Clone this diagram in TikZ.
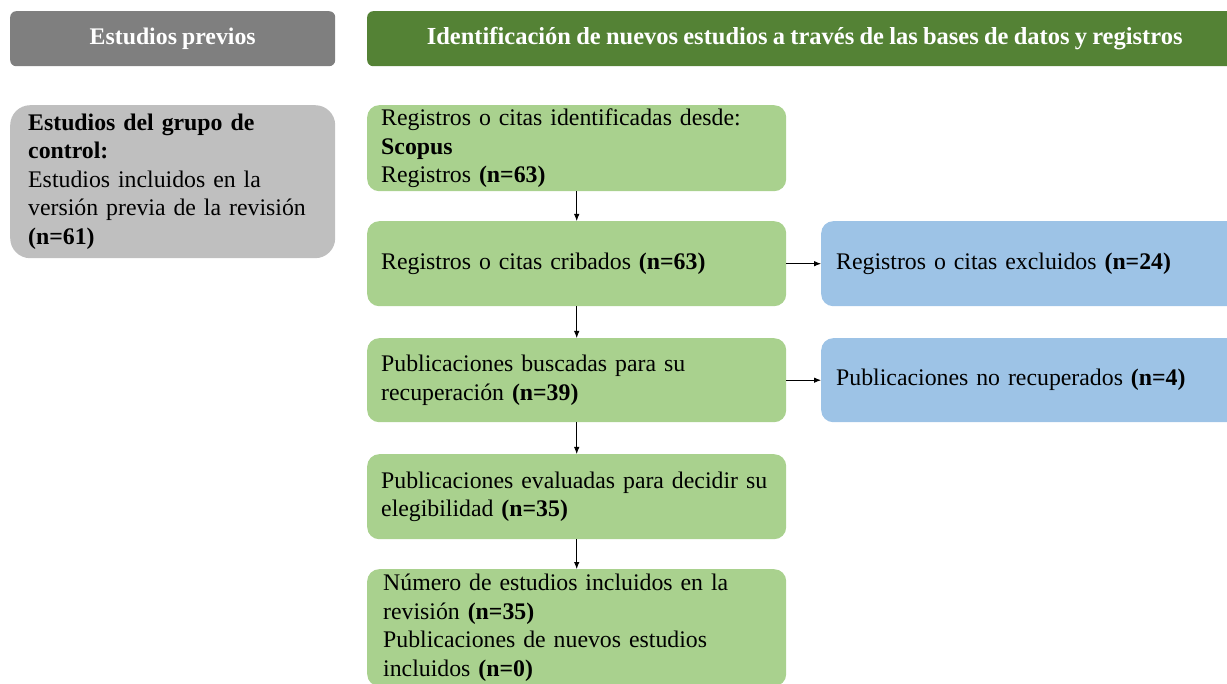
\documentclass[tikz,border=0pt]{standalone}
\usepackage{fontspec}
\setmainfont[WordSpace=0.85]{Liberation Serif}
\usetikzlibrary{arrows.meta}
\definecolor{headgray}{HTML}{7F7F7F}
\definecolor{headgreen}{HTML}{548235}
\definecolor{boxgray}{HTML}{BFBFBF}
\definecolor{boxgreen}{HTML}{A9D18E}
\definecolor{boxblue}{HTML}{9DC3E6}
\begin{document}
\begin{tikzpicture}[x=1pt,y=-1pt]
      \useasboundingbox (0,0) rectangle (1227,684);
      \clip (0,0) rectangle (1227,684);
      \begin{scope}
        \tikzstyle{txt} = [font=\fontsize{23.8}{28.5}\selectfont]
        \tikzstyle{hnode} = [txt, anchor=north west, rounded corners=6pt, minimum height=55pt, inner sep=0pt, text=white, font=\fontsize{23.8}{28.5}\selectfont\bfseries]
        \tikzstyle{bnode} = [txt, anchor=north west, rounded corners=12pt, inner xsep=14pt, inner ysep=0pt, align=left]
        \tikzstyle{link} = [-{Latex[length=7pt,width=5.5pt]}, black, line width=0.8pt]

        \node[hnode, fill=headgray, minimum width=325pt] (h1) at (10,11) {Estudios previos};
        \node[hnode, fill=headgreen, minimum width=875pt, font=\fontsize{24.5}{28.5}\selectfont\bfseries] (h2) at (367,11) {Identificación de nuevos estudios a través de las bases de datos y registros};

        \node[bnode, fill=boxgray, rounded corners=20pt, inner xsep=18pt, text width=289pt, minimum height=153pt] (c1) at (10,105)
          {\textbf{Estudios del grupo de}\\ \textbf{control:}\\ Estudios incluidos en la\\ versión previa de la revisión\\ \textbf{(n=61)}};

        \node[bnode, fill=boxgreen, text width=391pt, minimum height=86pt] (s1) at (367,105)
          {Registros o citas identificadas desde:\\ \textbf{Scopus}\\ Registros \textbf{(n=63)}};
        \node[bnode, fill=boxgreen, text width=391pt, minimum height=85pt] (s2) at (367,221)
          {Registros o citas cribados \textbf{(n=63)}};
        \node[bnode, fill=boxgreen, text width=391pt, minimum height=84pt] (s3) at (367,338)
          {Publicaciones buscadas para su\\ recuperación \textbf{(n=39)}};
        \node[bnode, fill=boxgreen, text width=391pt, minimum height=85pt] (s4) at (367,454)
          {Publicaciones evaluadas para decidir su\\ elegibilidad \textbf{(n=35)}};
        \node[bnode, fill=boxgreen, inner xsep=16pt, text width=387pt, minimum height=117pt] (s5) at (367,569)
          {Número de estudios incluidos en la\\ revisión \textbf{(n=35)}\\ Publicaciones de nuevos estudios\\ incluidos \textbf{(n=0)}};

        \node[bnode, fill=boxblue, inner xsep=15pt, text width=400pt, minimum height=85pt] (e1) at (821,221)
          {Registros o citas excluidos \textbf{(n=24)}};
        \node[bnode, fill=boxblue, inner xsep=15pt, text width=400pt, minimum height=84pt] (e2) at (821,338)
          {Publicaciones no recuperados \textbf{(n=4)}};

        \draw[link] (s1) -- (s2);
        \draw[link] (s2) -- (s3);
        \draw[link] (s3) -- (s4);
        \draw[link] (s4) -- (s5);
        \draw[link] (s2) -- (e1);
        \draw[link] (s3) -- (e2);
      \end{scope}
    \end{tikzpicture}
\end{document}
